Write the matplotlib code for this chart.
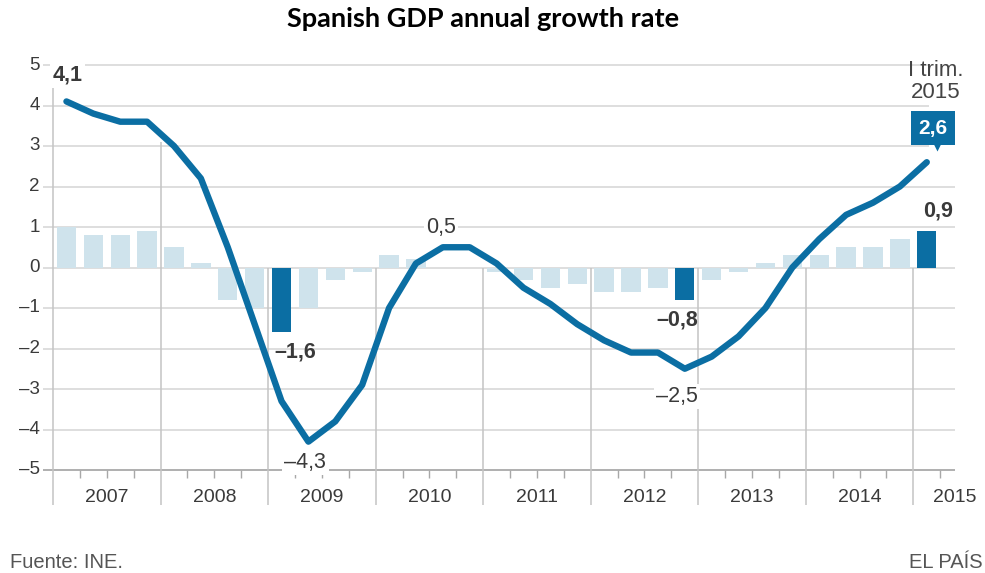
import matplotlib
matplotlib.use("Agg")
import matplotlib.pyplot as plt
import matplotlib.transforms as mtransforms
import numpy as np

# ---------------- data ----------------
years = ["2007", "2008", "2009", "2010", "2011", "2012", "2013", "2014", "2015"]
quarterly = [1.0, 0.8, 0.8, 0.9,
             0.5, 0.1, -0.8, -1.0,
             -1.6, -1.0, -0.3, -0.1,
             0.3, 0.2, 0.0, 0.0,
             -0.1, -0.3, -0.5, -0.4,
             -0.6, -0.6, -0.5, -0.8,
             -0.3, -0.1, 0.1, 0.3,
             0.3, 0.5, 0.5, 0.7,
             0.9]
annual = [4.1, 3.8, 3.6, 3.6,
          3.0, 2.2, 0.5, -1.4,
          -3.3, -4.3, -3.8, -2.9,
          -1.0, 0.1, 0.5, 0.5,
          0.1, -0.5, -0.9, -1.4,
          -1.8, -2.1, -2.1, -2.5,
          -2.2, -1.7, -1.0, 0.0,
          0.7, 1.3, 1.6, 2.0,
          2.6]
highlight_bars = [8, 23, 32]          # quarters whose bar is emphasised
yticks = [5, 4, 3, 2, 1, 0, -1, -2, -3, -4, -5]
ytick_labels = ["5", "4", "3", "2", "1", "0", "–1", "–2", "–3", "–4", "–5"]

title = "Spanish GDP annual growth rate"
source = "Fuente: INE."
brand = "EL PAÍS"

# ---------------- style ----------------
BLUE = "#0b6ea3"
LIGHT = "#cfe3ec"
TXT = "#3a3a3a"
GRID = "#d4d4d4"
FONT = "Liberation Sans"

W, H, DPI = 985, 573, 100
fig = plt.figure(figsize=(W / DPI, H / DPI), dpi=DPI)
fig.patch.set_facecolor("white")
ax = fig.add_axes([53 / W, 1 - 470 / H, 902 / W, 405 / H])
ax.set_xlim(-0.5, 33.05)
ax.set_ylim(-5, 5)
for s in ax.spines.values():
    s.set_visible(False)
ax.set_xticks([])
ax.set_yticks([])

n = len(quarterly)
x = np.arange(n)

# horizontal grid lines (extend a little left of the axis as ticks)
x_left = -0.5 - 10 / 26.88
for yv, lab in zip(yticks, ytick_labels):
    right = 33.05 if yv <= 2 else 32.1
    col = "#9a9a9a" if yv == -5 else GRID
    ax.hlines(yv, x_left, right, colors=col, lw=1.1, zorder=1, clip_on=False)
    ax.text(x_left - 0.12, yv, lab, ha="right", va="center", fontsize=13.5,
            color=TXT, family=FONT)

# vertical year separators
y_bottom = -5.87
for k in range(len(years)):
    xv = 4 * k - 0.5
    if k == 0:
        top = 5.0
    elif k == 1:
        top = 3.1
    else:
        top = 0.0
    ax.vlines(xv, y_bottom, top, colors="#c4c4c4", lw=1.1, zorder=1, clip_on=False)

# quarter minor ticks
for q in range(n):
    xv = q + 0.5
    if (q + 1) % 4 == 0:
        continue
    ax.vlines(xv, -5.2, -5, colors="#a8a8a8", lw=1.0, zorder=1, clip_on=False)

# year labels
for k, yr in enumerate(years):
    if k < len(years) - 1:
        xc = 4 * k + 1.5
    else:
        xc = 33.05
    ax.text(xc, -5.68, yr, ha="center", va="center", fontsize=14,
            color=TXT, family=FONT)

# bars
colors = [BLUE if i in highlight_bars else LIGHT for i in range(n)]
ax.bar(x, quarterly, width=0.72, color=colors, zorder=2, linewidth=0)

# line
ax.plot(x, annual, color=BLUE, lw=4.6, zorder=3, solid_capstyle="round",
        solid_joinstyle="round")

# ---------------- labels ----------------
def lab(i, v, txt, dx, dy, bold=False, bg=False, size=15.5):
    kw = dict(textcoords="offset points", ha="center", va="center",
              fontsize=size, color=TXT, family=FONT,
              fontweight="bold" if bold else "normal", zorder=5,
              annotation_clip=False)
    if bg:
        kw["bbox"] = dict(boxstyle="square,pad=0.1", fc="white", ec="none")
    ax.annotate(txt, xy=(i, v), xytext=(dx * 0.72, dy * 0.72), **kw)

lab(0, annual[0], "4,1", 1, 26, bold=True, bg=True)
lab(14, annual[14], "0,5", -2, 20, bg=True)
lab(9, annual[9], "–4,3", -3, -21, bg=True)
lab(23, annual[23], "–2,5", -8, -28, bg=True)
lab(8, quarterly[8], "–1,6", 14, -20, bold=True)
lab(23, quarterly[23], "–0,8", -8, -20, bold=True)
lab(32, quarterly[32], "0,9", 11, 20, bold=True)

# highlighted last value box
ax.annotate("2,6", xy=(32, annual[32]), xytext=(6 * 0.72, 34 * 0.72),
            textcoords="offset points", ha="center", va="center",
            fontsize=15, fontweight="bold", color="white", family=FONT,
            bbox=dict(boxstyle="square,pad=0.36", fc=BLUE, ec="none"),
            zorder=6, annotation_clip=False)
tri = mtransforms.offset_copy(ax.transData, fig=fig, x=10, y=16, units="dots")
ax.plot([32], [annual[32]], marker="v", ms=7, color=BLUE, mec="none",
        transform=tri, zorder=6, clip_on=False)

ax.annotate("I trim.\n2015", xy=(32, annual[32]), xytext=(9 * 0.72, 81 * 0.72),
            textcoords="offset points", ha="center", va="center",
            fontsize=16, color="#444444", family=FONT, linespacing=1.05,
            zorder=6, annotation_clip=False)

# title and footer
fig.text(483 / W, 1 - 19 / H, title, ha="center", va="center", fontsize=19.5,
         fontweight="bold", family="Lato", color="black")
fig.text(10 / W, 1 - 563 / H, source, ha="left", va="center", fontsize=14.5,
         color="#555555", family=FONT)
fig.text(983 / W, 1 - 563 / H, brand, ha="right", va="center", fontsize=14.5,
         color="#555555", family=FONT)

fig.savefig("out.png", dpi=DPI, facecolor="white")
